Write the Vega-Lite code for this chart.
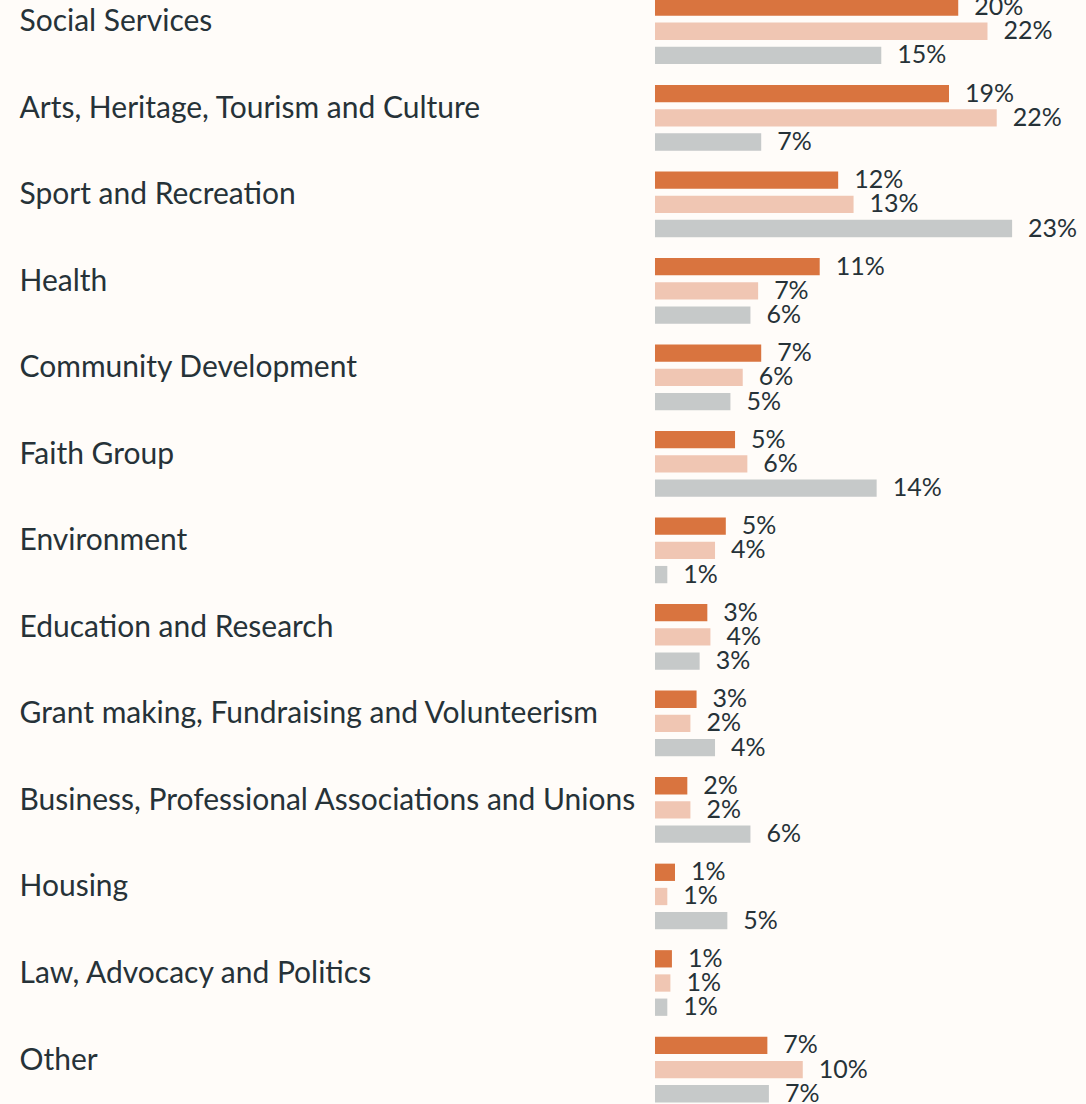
{
  "$schema": "https://vega.github.io/schema/vega-lite/v6.json",
  "autosize": {"type": "none"},
  "padding": {"left": 655, "top": -12, "right": 0, "bottom": 0},
  "width": 431,
  "height": 1124.8,
  "background": "#fffcf9",
  "config": {"view": {"stroke": null}, "font": "Lato"},
  "data": {"values": [
    {"category": "Social Services", "series": "Series 1", "value": 0.197},
    {"category": "Social Services", "series": "Series 2", "value": 0.216},
    {"category": "Social Services", "series": "Series 3", "value": 0.147},
    {"category": "Arts, Heritage, Tourism and Culture", "series": "Series 1", "value": 0.191},
    {"category": "Arts, Heritage, Tourism and Culture", "series": "Series 2", "value": 0.222},
    {"category": "Arts, Heritage, Tourism and Culture", "series": "Series 3", "value": 0.069},
    {"category": "Sport and Recreation", "series": "Series 1", "value": 0.119},
    {"category": "Sport and Recreation", "series": "Series 2", "value": 0.129},
    {"category": "Sport and Recreation", "series": "Series 3", "value": 0.232},
    {"category": "Health", "series": "Series 1", "value": 0.107},
    {"category": "Health", "series": "Series 2", "value": 0.067},
    {"category": "Health", "series": "Series 3", "value": 0.062},
    {"category": "Community Development", "series": "Series 1", "value": 0.069},
    {"category": "Community Development", "series": "Series 2", "value": 0.057},
    {"category": "Community Development", "series": "Series 3", "value": 0.049},
    {"category": "Faith Group", "series": "Series 1", "value": 0.052},
    {"category": "Faith Group", "series": "Series 2", "value": 0.06},
    {"category": "Faith Group", "series": "Series 3", "value": 0.144},
    {"category": "Environment", "series": "Series 1", "value": 0.046},
    {"category": "Environment", "series": "Series 2", "value": 0.039},
    {"category": "Environment", "series": "Series 3", "value": 0.008},
    {"category": "Education and Research", "series": "Series 1", "value": 0.034},
    {"category": "Education and Research", "series": "Series 2", "value": 0.036},
    {"category": "Education and Research", "series": "Series 3", "value": 0.029},
    {"category": "Grant making, Fundraising and Volunteerism", "series": "Series 1", "value": 0.027},
    {"category": "Grant making, Fundraising and Volunteerism", "series": "Series 2", "value": 0.023},
    {"category": "Grant making, Fundraising and Volunteerism", "series": "Series 3", "value": 0.039},
    {"category": "Business, Professional Associations and Unions", "series": "Series 1", "value": 0.021},
    {"category": "Business, Professional Associations and Unions", "series": "Series 2", "value": 0.023},
    {"category": "Business, Professional Associations and Unions", "series": "Series 3", "value": 0.062},
    {"category": "Housing", "series": "Series 1", "value": 0.013},
    {"category": "Housing", "series": "Series 2", "value": 0.008},
    {"category": "Housing", "series": "Series 3", "value": 0.047},
    {"category": "Law, Advocacy and Politics", "series": "Series 1", "value": 0.011},
    {"category": "Law, Advocacy and Politics", "series": "Series 2", "value": 0.01},
    {"category": "Law, Advocacy and Politics", "series": "Series 3", "value": 0.008},
    {"category": "Other", "series": "Series 1", "value": 0.073},
    {"category": "Other", "series": "Series 2", "value": 0.096},
    {"category": "Other", "series": "Series 3", "value": 0.074}
  ]},
  "encoding": {
    "y": {
      "field": "category", "type": "nominal", "sort": null,
      "scale": {"paddingInner": 0.161, "paddingOuter": 0.0805},
      "axis": {
        "title": null, "domain": false, "ticks": false, "labelAlign": "left",
        "labelPadding": 636, "labelBaseline": "alphabetic", "labelFontSize": 30,
        "labelColor": "#263238", "labelLimit": 700, "labelFont": "Lato"
      }
    },
    "yOffset": {
      "field": "series", "type": "nominal", "sort": null,
      "scale": {"paddingInner": 0.285, "paddingOuter": 0.1425}
    },
    "x": {
      "field": "value", "type": "quantitative",
      "scale": {"domain": [0, 0.28], "nice": false},
      "axis": null
    }
  },
  "layer": [
    {
      "mark": {"type": "bar", "clip": false},
      "encoding": {
        "color": {
          "field": "series", "type": "nominal", "legend": null,
          "scale": {"domain": ["Series 1", "Series 2", "Series 3"], "range": ["#d9743f", "#f0c6b3", "#c6c9c9"]}
        }
      }
    },
    {
      "mark": {"type": "text", "align": "left", "baseline": "middle", "dx": 16, "fontSize": 25, "color": "#263238", "font": "Lato"},
      "encoding": {
        "text": {"field": "value", "type": "quantitative", "format": ".0%"}
      }
    }
  ]
}
